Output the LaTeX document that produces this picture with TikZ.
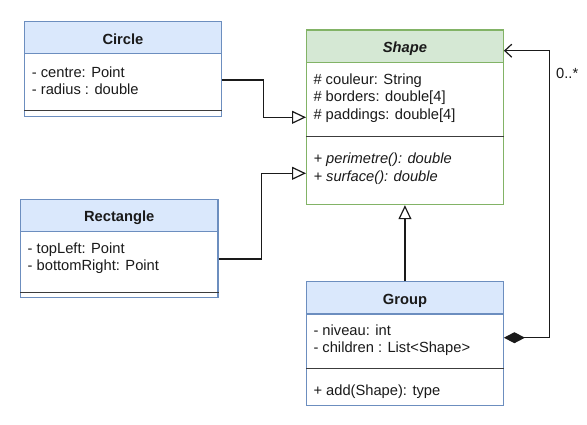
\documentclass[tikz,border=0pt]{standalone}
\usepackage{fontspec}
\setmainfont{Liberation Sans}
\usetikzlibrary{arrows.meta,calc}
\definecolor{bfill}{HTML}{DAE8FC}
\definecolor{bline}{HTML}{6C8EBF}
\definecolor{gfill}{HTML}{D5E8D4}
\definecolor{gline}{HTML}{82B366}
\definecolor{ink}{HTML}{1A1A1A}
\tikzset{
  box/.style={draw, anchor=north west, inner sep=0pt, line width=1.2pt},
  bluehdr/.style={box, draw=bline, fill=bfill, text height=13pt, text depth=0pt, font=\fontsize{14.7}{17.3}\selectfont\bfseries, text=ink},
  greenhdr/.style={box, draw=gline, fill=gfill, text height=13pt, text depth=0pt, font=\fontsize{14.7}{17.3}\selectfont\bfseries\itshape, text=ink},
  bluebody/.style={box, draw=bline, fill=white},
  greenbody/.style={box, draw=gline, fill=white},
  members/.style={anchor=west, inner sep=0pt, align=left, text=ink, font=\fontsize{14.7}{17.3}\selectfont},
  divider/.style={draw=ink!85, line width=1.2pt},
  conn/.style={draw=ink, line width=1.2pt},
  inherit/.style={conn, -{Triangle[open, length=14pt, width=13pt, fill=white]}},
  compos/.style={conn, {Diamond[length=21pt, width=11pt, fill=ink]}-{Straight Barb[length=7pt, width=13pt]}},
}
\begin{document}
\begin{tikzpicture}[x=1pt, y=-1pt]
\useasboundingbox[fill=white] (0,0) rectangle (587,424);

% Circle
\node[bluehdr, minimum width=196.7pt, minimum height=32pt] (circH) at (24,21) {Circle};
\node[bluebody, minimum width=196.7pt, minimum height=62.7pt] (circB) at (24,53) {};
\draw[divider] (circB.west |- 0,110.7) -- (circB.east |- 0,110.7);
\node[members] (circA) at (31.7,80.4) {- centre: Point\\- radius : double};

% Rectangle
\node[bluehdr, minimum width=197.3pt, minimum height=31.7pt] (rectH) at (20,199) {Rectangle};
\node[bluebody, minimum width=197.3pt, minimum height=66pt] (rectB) at (20,230.7) {};
\draw[divider] (rectB.west |- 0,292.3) -- (rectB.east |- 0,292.3);
\node[members] (rectA) at (27.5,258) {- topLeft: Point\\- bottomRight: Point};

% Shape
\node[greenhdr, minimum width=196.7pt, minimum height=32.4pt] (shapeH) at (306,29.3) {Shape};
\node[greenbody, minimum width=196.7pt, minimum height=142.3pt] (shapeB) at (306,61.7) {};
\draw[divider] (shapeB.west |- 0,136.7) -- (shapeB.east |- 0,136.7);
\node[members] (shapeA) at (313.3,98) {\# couleur: String\\\# borders: double[4]\\\# paddings: double[4]};
\node[members, font=\fontsize{14.7}{17.3}\selectfont\itshape] (shapeM) at (313.3,168.7) {+ perimetre(): double\\+ surface(): double};

% Group
\node[bluehdr, minimum width=196.7pt, minimum height=32.3pt] (groupH) at (306,281) {Group};
\node[bluebody, minimum width=196.7pt, minimum height=91.7pt] (groupB) at (306,313.3) {};
\draw[divider] (groupB.west |- 0,368.3) -- (groupB.east |- 0,368.3);
\node[members] (groupA) at (313.3,340) {- niveau: int\\- children : List<Shape>};
\node[members] (groupM) at (313.3,391.7) {+ add(Shape): type};

% Connectors
\coordinate (c1) at (circB.east |- 0,80);
\coordinate (s1) at (shapeB.west |- 0,117.3);
\draw[inherit] (c1) -| (263.3,98) |- (s1);

\coordinate (r1) at (rectB.east |- 0,259);
\coordinate (s2) at (shapeB.west |- 0,173.3);
\draw[inherit] (r1) -| (261.3,215) |- (s2);

\draw[inherit] (groupH.north) -- (shapeB.south);

\coordinate (g1) at (groupB.east |- 0,337.7);
\coordinate (s3) at (shapeH.east |- 0,50.7);
\draw[compos] (g1) -| (549.7,200) |- (s3);
\node[members] (mult) at (556,73) {0..*};
\end{tikzpicture}
\end{document}
